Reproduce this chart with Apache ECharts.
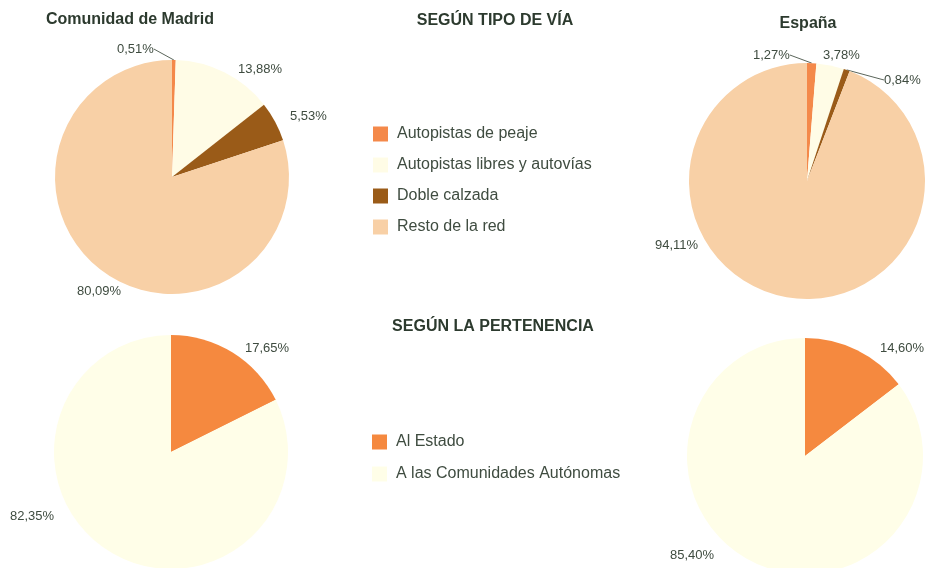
<!DOCTYPE html>
<html>
<head>
<meta charset="utf-8">
<script src="https://cdn.jsdelivr.net/npm/echarts@6/dist/echarts.min.js"></script>
<style>
    html, body { margin: 0; padding: 0; background: #fff; }
    #chart { width: 927px; height: 568px; }
</style>
</head>
<body>
<div id="chart"></div>
<script>
// datos
const tipoNames = ['Autopistas de peaje', 'Autopistas libres y autovías', 'Doble calzada', 'Resto de la red']
const madridTipo = [0.51, 13.88, 5.53, 80.09]
const espanaTipo = [1.27, 3.78, 0.84, 94.11]
const pertNames = ['Al Estado', 'A las Comunidades Autónomas']
const madridPert = [17.65, 82.35]
const espanaPert = [14.60, 85.40]

// estilos
const tipoColors = ['#F4894A', '#FFFCE6', '#9A5B18', '#F8D0A6']
const pertColors = ['#F5893F', '#FFFEE8']
const textColor = '#3f4c40'
const titleColor = '#2c3a2e'
const font = 'Liberation Sans, Arial, sans-serif'

// posicion de las etiquetas (borde izquierdo, centro vertical)
const labelPos = [
    [[117, 49], [238, 69], [290, 116], [77, 291]],
    [[753, 55], [823, 55], [884, 80], [655, 245]],
    [[245, 348], [10, 516]],
    [[880, 348], [670, 555]]
]
const lineOn = [
    [true, false, false, false],
    [true, false, true, false],
    [false, false],
    [false, false]
]

const fmt = (p) => p.value.toFixed(2).replace('.', ',') + '%'

function makePie (idx, names, values, colors, center, radius) {
    return {
        type: 'pie',
        center: center,
        radius: radius,
        startAngle: 90,
        clockwise: true,
        avoidLabelOverlap: false,
        silent: true,
        data: values.map((v, i) => ({
            name: names[i],
            value: v,
            itemStyle: { color: colors[i] },
            labelLine: { show: lineOn[idx][i] }
        })),
        label: {
            show: true,
            position: 'outside',
            formatter: fmt,
            color: textColor,
            fontSize: 13,
            fontFamily: font
        },
        labelLine: {
            show: false,
            length: 6,
            length2: 0,
            lineStyle: { color: '#5b665b', width: 1 }
        },
        labelLayout: function (p) {
            const pos = labelPos[idx][p.dataIndex]
            return { x: pos[0], y: pos[1], align: 'left', verticalAlign: 'middle' }
        }
    }
}

const chart = echarts.init(document.getElementById('chart'), null, { renderer: 'canvas' })
const titleStyle = (size) => ({ color: titleColor, fontSize: size, fontWeight: 'bold', fontFamily: font })

chart.setOption({
    backgroundColor: '#fff',
    animation: false,
    title: [
        { text: 'Comunidad de Madrid', left: 130, top: 12, textAlign: 'center', padding: 0, textStyle: titleStyle(16) },
        { text: 'SEGÚN TIPO DE VÍA', left: 495, top: 13, textAlign: 'center', padding: 0, textStyle: titleStyle(16) },
        { text: 'España', left: 808, top: 16, textAlign: 'center', padding: 0, textStyle: titleStyle(16) },
        { text: 'SEGÚN LA PERTENENCIA', left: 493, top: 319, textAlign: 'center', padding: 0, textStyle: titleStyle(16) }
    ],
    legend: [
        {
            data: tipoNames,
            orient: 'vertical',
            left: 373,
            top: 126,
            padding: 0,
            icon: 'rect',
            itemWidth: 15,
            itemHeight: 15,
            itemGap: 15,
            selectedMode: false,
            textStyle: { color: textColor, fontSize: 16, fontFamily: font, padding: [0, 0, 0, 4] }
        },
        {
            data: pertNames,
            orient: 'vertical',
            left: 372,
            top: 434,
            padding: 0,
            icon: 'rect',
            itemWidth: 15,
            itemHeight: 15,
            itemGap: 16,
            selectedMode: false,
            textStyle: { color: textColor, fontSize: 16, fontFamily: font, padding: [0, 0, 0, 4] }
        }
    ],
    series: [
        makePie(0, tipoNames, madridTipo, tipoColors, [172, 177], 117),
        makePie(1, tipoNames, espanaTipo, tipoColors, [807, 181], 118),
        makePie(2, pertNames, madridPert, pertColors, [171, 452], 117),
        makePie(3, pertNames, espanaPert, pertColors, [805, 456], 118)
    ]
})
</script>
</body>
</html>
